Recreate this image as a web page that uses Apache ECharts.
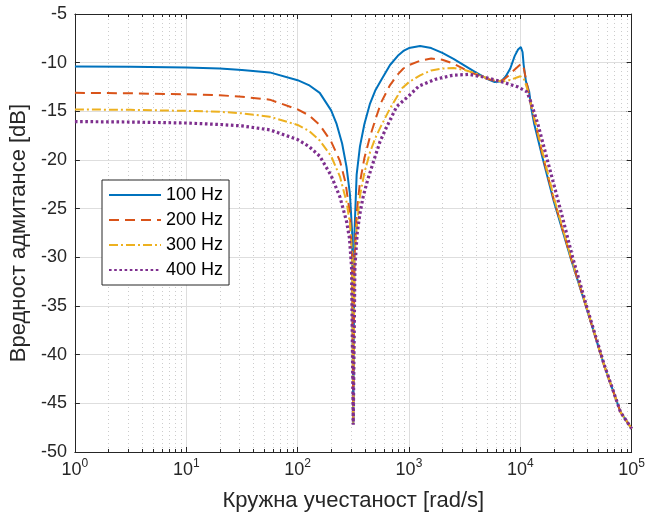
<!DOCTYPE html>
<html><head><meta charset="utf-8">
<script src="https://cdn.jsdelivr.net/npm/echarts@6/dist/echarts.min.js"></script>
<style>html,body{margin:0;padding:0;background:#fff}#c{width:648px;height:520px}</style>
</head><body><div id="c"></div>
<script>
const seriesNames = ['100 Hz', '200 Hz', '300 Hz', '400 Hz'];

const w100 = [1,3.16,10,20,31.6,56.2,100,126,158,200,224,251,275,295,309,316,324,339,363,398,447,501,562,676,794,891,1000,1259,1585,1995,2512,3162,3981,5012,5888,6761,7413,8128,8913,9550,9772,10116,10471,10715,11220,12023,12589,13335,15849,19953,28184,39811,56234,79433,100000];
const db100 = [-10.4,-10.42,-10.5,-10.6,-10.75,-11.0,-11.8,-12.3,-13.1,-14.9,-16.3,-18.3,-20.7,-23.5,-27.5,-47,-27.5,-21.5,-18.6,-16.3,-14.2,-12.8,-11.8,-10.24,-9.3,-8.8,-8.5,-8.28,-8.5,-9.0,-9.6,-10.3,-11.0,-11.65,-12.0,-11.9,-11.4,-10.6,-9.3,-8.65,-8.75,-8.4,-8.9,-10.2,-11.9,-13.0,-14.8,-16.3,-19.8,-24.2,-30.0,-35.4,-41.0,-45.9,-47.6];

const w200 = [1,3.16,10,20,31.6,56.2,100,126,158,200,240,269,295,309,316,324,339,363,398,447,501,562,676,794,891,1000,1259,1585,1995,2512,3162,3981,5012,6310,7079,7943,8913,9550,10233,10715,11482,12589,14125,15849,19953,28184,39811,56234,79433,100000];
const db200 = [-13.1,-13.15,-13.25,-13.35,-13.5,-13.8,-14.8,-15.4,-16.4,-18.1,-20.1,-22.3,-25.5,-30,-47,-30,-25.5,-22.3,-19.8,-17.6,-15.8,-14.1,-12.3,-11.2,-10.6,-10.25,-9.8,-9.58,-9.7,-10.1,-10.7,-11.2,-11.65,-11.95,-11.75,-11.25,-10.7,-10.4,-10.1,-10.5,-12.2,-14.6,-17.0,-19.5,-24.0,-29.9,-35.4,-41.0,-45.9,-47.6];

const w300 = [1,3.16,10,20,31.6,56.2,100,126,158,200,240,275,295,309,316,324,339,363,398,447,501,562,676,871,1000,1259,1585,1995,2512,3162,3981,5012,6761,7943,8913,10000,10715,11482,12589,14125,15849,19953,28184,39811,56234,79433,100000];
const db300 = [-14.8,-14.85,-14.95,-15.05,-15.2,-15.55,-16.4,-17.0,-18.0,-19.6,-21.7,-24.3,-26.5,-30,-47,-30,-27,-23.7,-21.3,-19.2,-17.7,-16.5,-14.7,-12.6,-12.0,-11.3,-10.8,-10.6,-10.55,-10.75,-11.1,-11.6,-11.95,-11.8,-11.6,-11.4,-11.6,-12.6,-14.5,-16.8,-19.2,-23.8,-29.8,-35.3,-41.0,-45.9,-47.6];

const w400 = [1,3.16,10,20,31.6,56.2,100,126,158,200,240,275,292,305,316,327,343,363,389,427,479,550,631,776,1000,1230,1738,2455,3467,4786,6761,9550,11482,12589,14454,17783,23442,29512,39811,56234,79433,100000];
const db400 = [-16.05,-16.1,-16.2,-16.35,-16.5,-16.9,-17.9,-18.6,-19.6,-21.6,-23.8,-26.3,-28,-31,-47.2,-31,-27.5,-25.5,-23.7,-22.0,-20.2,-18.1,-16.6,-14.5,-13.4,-12.4,-11.7,-11.3,-11.2,-11.5,-11.95,-12.5,-13.0,-14.2,-16.4,-20.3,-25.5,-30.0,-35.2,-40.9,-45.9,-47.6];

const xMajorTicks = [1, 10, 100, 1000, 10000, 100000];
const xMinorTicks = [2,3,4,5,6,7,8,9,20,30,40,50,60,70,80,90,200,300,400,500,600,700,800,900,2000,3000,4000,5000,6000,7000,8000,9000,20000,30000,40000,50000,60000,70000,80000,90000];
const yMin = -50, yMax = -5, yStep = 5;

const colors = ['#0072BD', '#D95319', '#EDB120', '#7E2F8E'];
const lineTypes = ['solid', [10, 6], [9, 3, 2, 3], [2.6, 2.6]];
const lineWidths = [2, 2, 2, 3.2];
const wArr = [w100, w200, w300, w400];
const dbArr = [db100, db200, db300, db400];

const FONT = 'Liberation Sans, Arial, Helvetica, sans-serif';
const AX = '#262626';

const chart = echarts.init(document.getElementById('c'), null, {renderer: 'canvas'});

const lineSeries = seriesNames.map((n, i) => ({
  name: n, type: 'line', symbol: 'none', xAxisIndex: 0, yAxisIndex: 0,
  data: wArr[i].map((w, j) => [w, dbArr[i][j]]),
  color: colors[i],
  lineStyle: {color: colors[i], width: lineWidths[i], type: lineTypes[i], cap: 'butt'},
  z: 5 + i, animation: false
}));

const minorSeries = {
  type: 'custom', silent: true, xAxisIndex: 0, yAxisIndex: 0, z: 1, animation: false,
  data: xMinorTicks.map(v => [v, yMin]),
  encode: {x: 0, y: 1},
  renderItem: (params, api) => {
    const v = api.value(0);
    const a = api.coord([v, yMin]);
    const b = api.coord([v, yMax]);
    const x = Math.round(a[0]) + 0.5;
    return {type: 'group', children: [
      {type: 'line', shape: {x1: x, y1: a[1], x2: x, y2: b[1]}, style: {stroke: '#cccccc', lineWidth: 1, lineDash: [1, 3]}},
      {type: 'line', shape: {x1: x, y1: a[1], x2: x, y2: a[1] - 3}, style: {stroke: AX, lineWidth: 1}},
      {type: 'line', shape: {x1: x, y1: b[1], x2: x, y2: b[1] + 3}, style: {stroke: AX, lineWidth: 1}}
    ]};
  }
};

const option = {
  animation: false,
  backgroundColor: '#fff',
  textStyle: {fontFamily: FONT},
  grid: {left: 72, right: 14, top: 14, bottom: 68, containLabel: false},
  legend: {
    data: seriesNames, orient: 'vertical', left: 102, top: 180,
    backgroundColor: '#fff', borderColor: AX, borderWidth: 1, borderRadius: 0,
    padding: [6, 6, 6, 6], itemWidth: 52, itemHeight: 14, itemGap: 7,
    itemStyle: {opacity: 0},
    textStyle: {fontFamily: FONT, fontSize: 18, lineHeight: 18, color: '#000'},
    selectedMode: false
  },
  xAxis: [
    {type: 'log', logBase: 10, min: xMajorTicks[0], max: xMajorTicks[xMajorTicks.length - 1], position: 'bottom',
     name: 'Кружна учестаност [rad/s]', nameLocation: 'middle', nameGap: 38,
     nameTextStyle: {fontFamily: FONT, fontSize: 22, color: AX},
     axisLine: {show: true, lineStyle: {color: AX, width: 1}},
     axisTick: {show: true, inside: true, length: 5, lineStyle: {color: AX}},
     splitLine: {show: true, lineStyle: {color: '#dedede', width: 1}},
     axisLabel: {margin: 9, color: AX,
       formatter: v => '{b|10}{e|' + Math.round(Math.log10(v)) + '}',
       rich: {b: {fontFamily: FONT, fontSize: 18, color: AX, verticalAlign: 'bottom', lineHeight: 18},
              e: {fontFamily: FONT, fontSize: 12, color: AX, verticalAlign: 'bottom', lineHeight: 12, padding: [0, 0, 9, 0]}}}
    },
    {type: 'log', logBase: 10, min: xMajorTicks[0], max: xMajorTicks[xMajorTicks.length - 1], position: 'top',
     axisLine: {show: true, lineStyle: {color: AX, width: 1}},
     axisTick: {show: true, inside: true, length: 5, lineStyle: {color: AX}},
     splitLine: {show: false}, axisLabel: {show: false}}
  ],
  yAxis: [
    {type: 'value', min: yMin, max: yMax, interval: yStep, position: 'left',
     name: 'Вредност адмитансе [dB]', nameLocation: 'middle', nameGap: 37, nameRotate: 90,
     nameTextStyle: {fontFamily: FONT, fontSize: 22, color: AX},
     axisLine: {show: true, lineStyle: {color: AX, width: 1}},
     axisTick: {show: true, inside: true, length: 5, lineStyle: {color: AX}},
     splitLine: {show: true, lineStyle: {color: '#dedede', width: 1}},
     axisLabel: {margin: 8, fontFamily: FONT, fontSize: 18, color: AX}},
    {type: 'value', min: yMin, max: yMax, interval: yStep, position: 'right',
     axisLine: {show: true, lineStyle: {color: AX, width: 1}},
     axisTick: {show: true, inside: true, length: 5, lineStyle: {color: AX}},
     splitLine: {show: false}, axisLabel: {show: false}}
  ],
  series: [minorSeries].concat(lineSeries)
};
chart.setOption(option);
</script>
</body></html>
